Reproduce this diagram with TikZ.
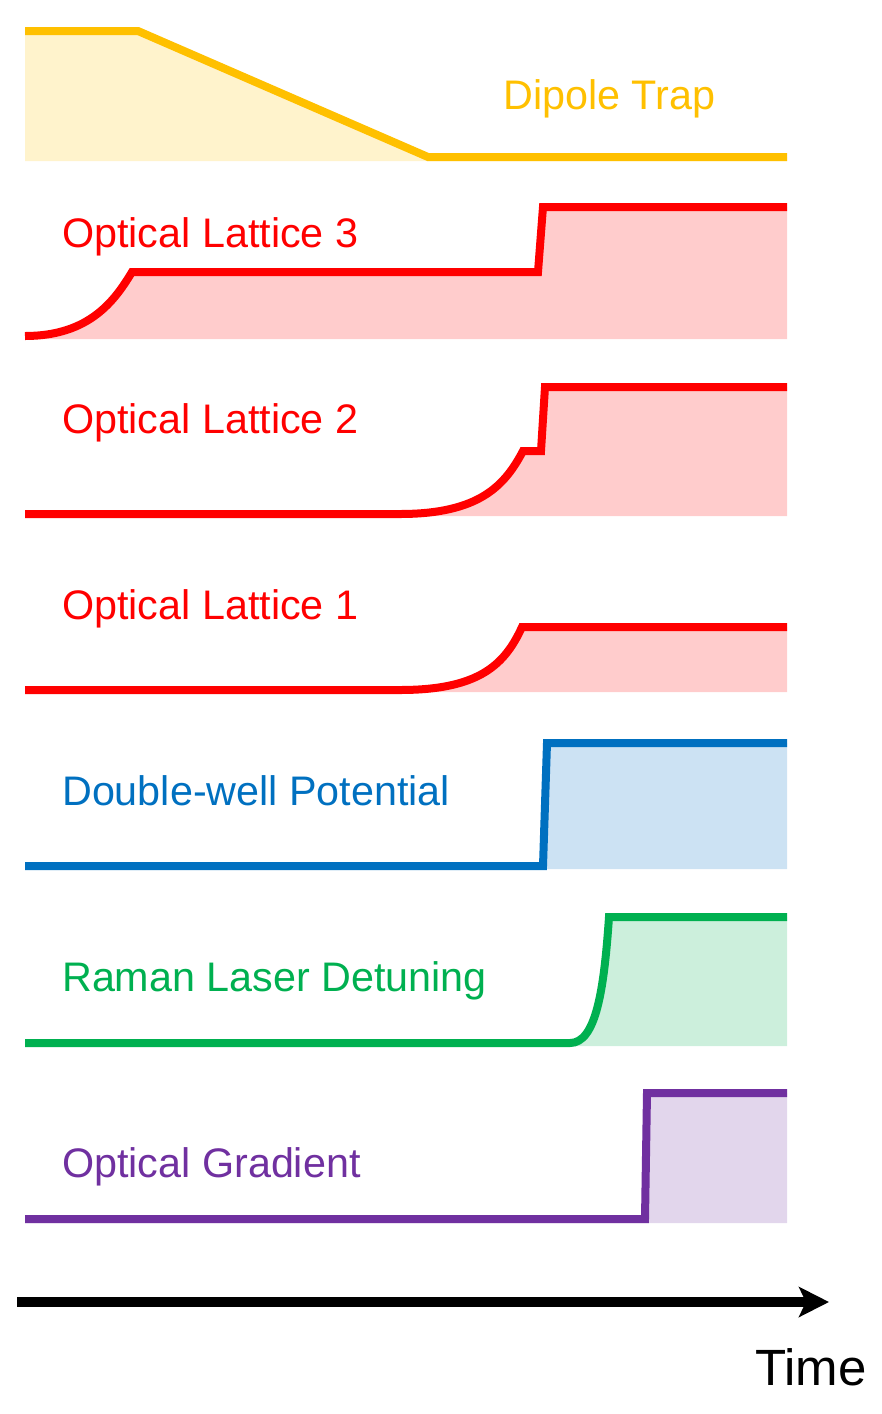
\documentclass[tikz,border=0pt]{standalone}
\usepackage{fontspec}
\setmainfont{Liberation Sans}
\usetikzlibrary{arrows.meta}
\definecolor{cyel}{HTML}{FFC000}
\definecolor{cred}{HTML}{FF0000}
\definecolor{cblu}{HTML}{0070C0}
\definecolor{cgrn}{HTML}{00B050}
\definecolor{cpur}{HTML}{7030A0}
\tikzset{
  sig/.style={line width=8pt, line join=miter},
  lbl/.style={anchor=base west, inner sep=0pt, font=\fontsize{41.3}{49.6}\selectfont}
}
\begin{document}
\begin{tikzpicture}[x=1pt,y=-1pt]
\useasboundingbox (0,0) rectangle (882,1414);
% Dipole trap
\fill[cyel!20] (25,31) -- (138,31) -- (428,157) -- (787,157) -- (787,161) -- (25,161) -- cycle;
\draw[sig,cyel] (25,31) -- (138,31) -- (428,157) -- (787,157);
\node[lbl,text=cyel] (dip) at (503,109) {Dipole Trap};
% Optical lattice 3
\fill[cred!20] (25,336) .. controls (90,336) and (115,300) .. (132,272) -- (538,272) -- (543,207) -- (787,207) -- (787,339) -- (25,339) -- cycle;
\draw[sig,cred] (25,336) .. controls (90,336) and (115,300) .. (132,272) -- (538,272) -- (543,207) -- (787,207);
\node[lbl,text=cred] (ol3) at (62,247) {Optical Lattice 3};
% Optical lattice 2
\fill[cred!20] (25,514) -- (400,514) .. controls (480,514) and (505,485) .. (523,451) -- (541,451) -- (545,387) -- (787,387) -- (787,516) -- (25,516) -- cycle;
\draw[sig,cred] (25,514) -- (400,514) .. controls (480,514) and (505,485) .. (523,451) -- (541,451) -- (545,387) -- (787,387);
\node[lbl,text=cred] (ol2) at (62,433) {Optical Lattice 2};
% Optical lattice 1
\fill[cred!20] (25,690) -- (400,690) .. controls (480,690) and (505,664) .. (522,627) -- (787,627) -- (787,692) -- (25,692) -- cycle;
\draw[sig,cred] (25,690) -- (400,690) .. controls (480,690) and (505,664) .. (522,627) -- (787,627);
\node[lbl,text=cred] (ol1) at (62,619) {Optical Lattice 1};
% Double-well
\fill[cblu!20] (25,866) -- (543,866) -- (547,743) -- (787,743) -- (787,869) -- (25,869) -- cycle;
\draw[sig,cblu] (25,866) -- (543,866) -- (547,743) -- (787,743);
\node[lbl,text=cblu] (dw) at (62,805) {Double-well Potential};
% Raman
\fill[cgrn!20] (25,1043) -- (570,1043) .. controls (596,1043) and (604,990) .. (609,917) -- (787,917) -- (787,1046) -- (25,1046) -- cycle;
\draw[sig,cgrn] (25,1043) -- (570,1043) .. controls (596,1043) and (604,990) .. (609,917) -- (787,917);
\node[lbl,text=cgrn] (ram) at (62,991) {Raman Laser Detuning};
% Optical gradient
\fill[cpur!20] (25,1219) -- (645,1219) -- (647,1093) -- (787,1093) -- (787,1223) -- (25,1223) -- cycle;
\draw[sig,cpur] (25,1219) -- (645,1219) -- (647,1093) -- (787,1093);
\node[lbl,text=cpur] (og) at (62,1177) {Optical Gradient};
% Time axis
\coordinate (t0) at (17,1302);
\coordinate (t1) at (829,1302);
\draw[line width=10pt,-{Stealth[length=30pt,width=30pt,inset=7pt]}] (t0) -- (t1);
\node[lbl,font=\fontsize{51}{60}\selectfont] (time) at (755,1385) {Time};
\end{tikzpicture}
\end{document}
